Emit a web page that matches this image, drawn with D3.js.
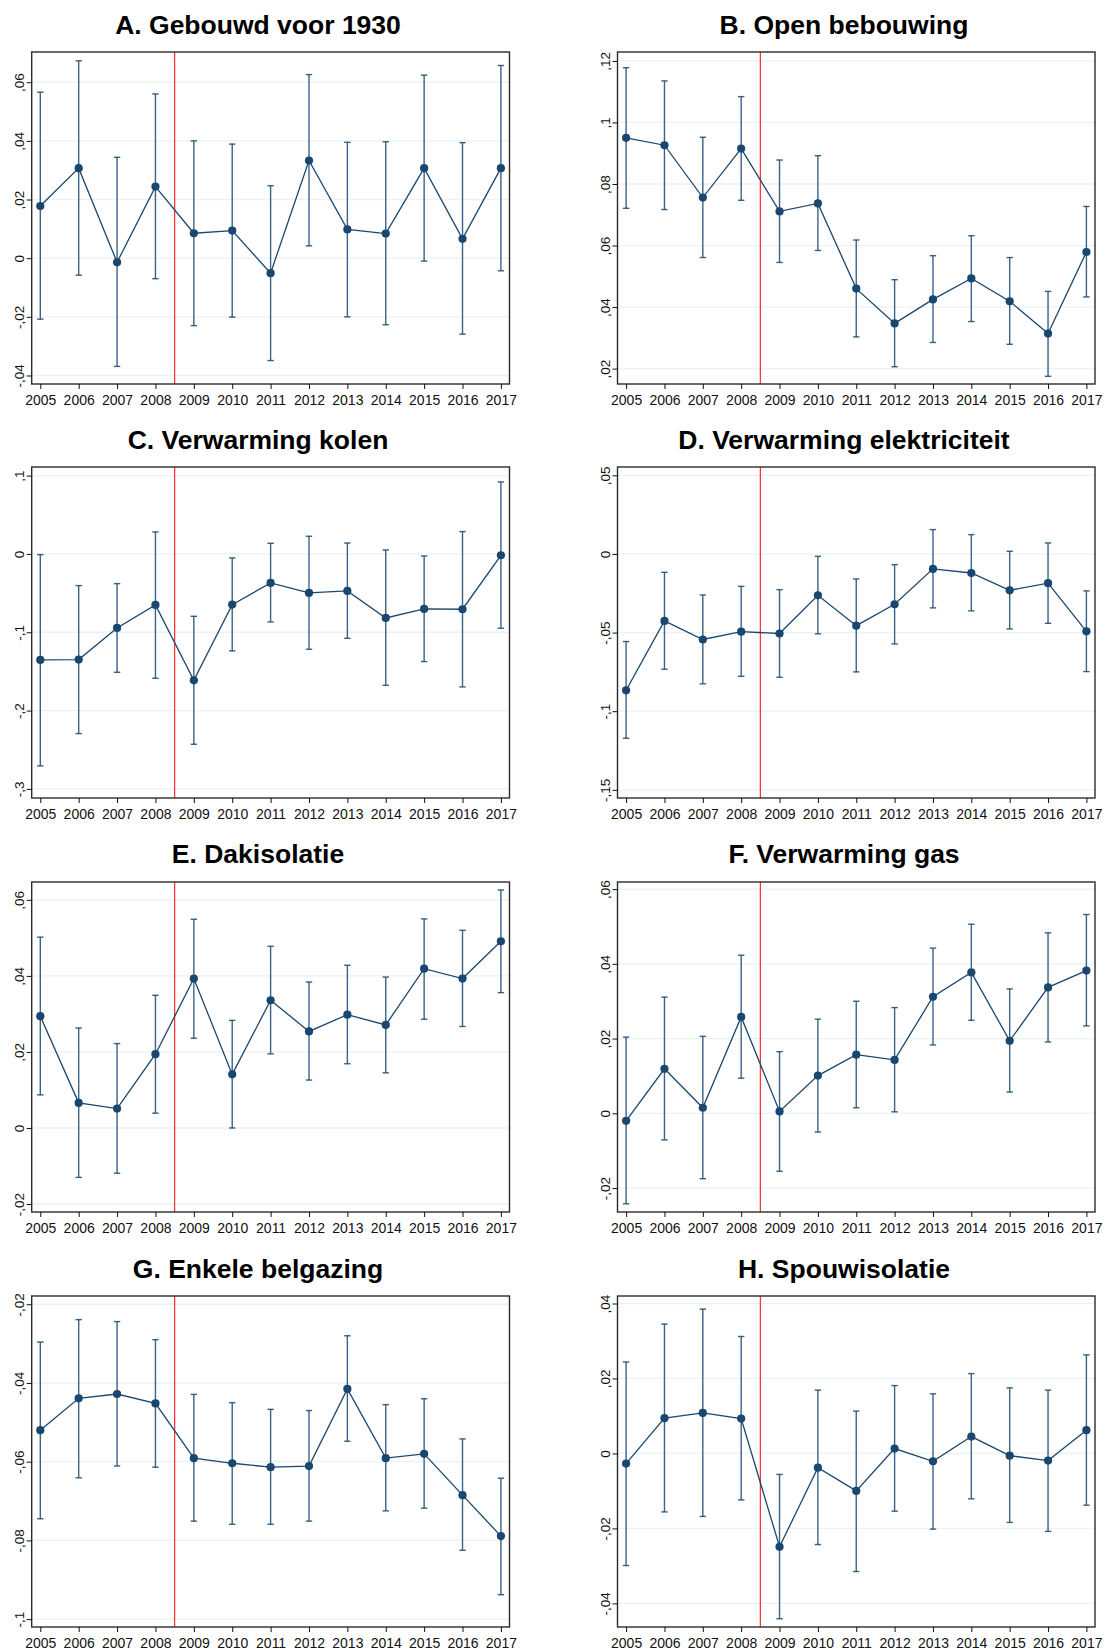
<!DOCTYPE html>
<html>
<head>
<meta charset="utf-8">
<script src="https://cdn.jsdelivr.net/npm/d3@7"></script>
<style>
  body { margin: 0; background: #fff; }
  svg { display: block; font-family: "Liberation Sans", Arial, sans-serif; }
  .panel-title { font-weight: bold; font-size: 26.5px; fill: #000; text-anchor: middle; }
  .axis text { font-family: "Liberation Sans", Arial, sans-serif; fill: #111; }
  .axis path.domain { display: none; }
  .axis line { stroke: #111; }
  .grid line { stroke: #eaf2f3; stroke-width: 1.3; }
  .frame { fill: none; stroke: #2b2b2b; stroke-width: 1.4; }
  .reform { stroke: #ff2a2a; stroke-width: 1.2; }
  .est-line { fill: none; stroke: #1a476f; stroke-width: 1.3; }
  .ci { stroke: #1a476f; stroke-width: 1.4; stroke-opacity: 0.85; }
  .dot { fill: #1a476f; }
</style>
</head>
<body>
<svg id="chart" width="1105" height="1650"></svg>
<script>
// Years on the x axis and the reform between 2008 and 2009
const years = [2005, 2006, 2007, 2008, 2009, 2010, 2011, 2012, 2013, 2014, 2015, 2016, 2017];
const reformYear = 2008.5;

// A. Gebouwd voor 1930
const gebouwdEst = [0.0178, 0.0307, -0.0014, 0.0244, 0.0085, 0.0094, -0.0051, 0.0333, 0.0098, 0.0084, 0.0307, 0.0066, 0.0307];
const gebouwdLo  = [-0.0208, -0.0058, -0.0369, -0.0070, -0.0230, -0.0201, -0.0349, 0.0042, -0.0200, -0.0227, -0.0010, -0.0259, -0.0043];
const gebouwdHi  = [0.0566, 0.0673, 0.0344, 0.0560, 0.0400, 0.0389, 0.0247, 0.0626, 0.0395, 0.0397, 0.0624, 0.0394, 0.0657];
const gebouwdTicks = [-0.04, -0.02, 0, 0.02, 0.04, 0.06];

// B. Open bebouwing
const openEst = [0.0950, 0.0926, 0.0756, 0.0915, 0.0711, 0.0737, 0.0460, 0.0347, 0.0425, 0.0493, 0.0419, 0.0314, 0.0579];
const openLo  = [0.0721, 0.0717, 0.0561, 0.0747, 0.0545, 0.0584, 0.0303, 0.0206, 0.0285, 0.0353, 0.0279, 0.0175, 0.0433];
const openHi  = [0.1178, 0.1135, 0.0952, 0.1084, 0.0878, 0.0892, 0.0618, 0.0489, 0.0567, 0.0632, 0.0561, 0.0451, 0.0727];
const openTicks = [0.02, 0.04, 0.06, 0.08, 0.1, 0.12];

// C. Verwarming kolen
const kolenEst = [-0.1353, -0.1349, -0.0945, -0.0651, -0.1613, -0.0647, -0.0370, -0.0498, -0.0472, -0.0817, -0.0702, -0.0706, -0.0017];
const kolenLo  = [-0.2706, -0.2294, -0.1511, -0.1587, -0.2430, -0.1238, -0.0868, -0.1217, -0.1077, -0.1677, -0.1374, -0.1698, -0.0949];
const kolenHi  = [-0.0009, -0.0404, -0.0379, 0.0281, -0.0796, -0.0051, 0.0136, 0.0226, 0.0140, 0.0051, -0.0026, 0.0285, 0.0919];
const kolenTicks = [-0.3, -0.2, -0.1, 0, 0.1];

// D. Verwarming elektriciteit
const elekEst = [-0.0867, -0.0426, -0.0544, -0.0494, -0.0506, -0.0263, -0.0456, -0.0320, -0.0095, -0.0121, -0.0231, -0.0186, -0.0492];
const elekLo  = [-0.1172, -0.0733, -0.0826, -0.0778, -0.0784, -0.0508, -0.0750, -0.0572, -0.0343, -0.0362, -0.0477, -0.0441, -0.0748];
const elekHi  = [-0.0557, -0.0117, -0.0261, -0.0206, -0.0227, -0.0015, -0.0159, -0.0068, 0.0155, 0.0123, 0.0017, 0.0070, -0.0235];
const elekTicks = [-0.15, -0.1, -0.05, 0, 0.05];

// E. Dakisolatie
const dakEst = [0.0294, 0.0066, 0.0051, 0.0194, 0.0393, 0.0141, 0.0336, 0.0254, 0.0298, 0.0271, 0.0419, 0.0393, 0.0491];
const dakLo  = [0.0087, -0.0130, -0.0119, 0.0039, 0.0236, 0.0000, 0.0195, 0.0126, 0.0169, 0.0145, 0.0286, 0.0267, 0.0356];
const dakHi  = [0.0502, 0.0263, 0.0222, 0.0349, 0.0549, 0.0283, 0.0478, 0.0384, 0.0428, 0.0397, 0.0550, 0.0520, 0.0626];
const dakTicks = [-0.02, 0, 0.02, 0.04, 0.06];

// F. Verwarming gas
const gasEst = [-0.0020, 0.0119, 0.0015, 0.0258, 0.0005, 0.0101, 0.0157, 0.0143, 0.0312, 0.0377, 0.0194, 0.0337, 0.0382];
const gasLo  = [-0.0242, -0.0071, -0.0175, 0.0094, -0.0155, -0.0050, 0.0015, 0.0004, 0.0183, 0.0249, 0.0057, 0.0191, 0.0234];
const gasHi  = [0.0204, 0.0311, 0.0206, 0.0423, 0.0165, 0.0252, 0.0300, 0.0283, 0.0442, 0.0506, 0.0333, 0.0483, 0.0532];
const gasTicks = [-0.02, 0, 0.02, 0.04, 0.06];

// G. Enkele belgazing
const enkelEst = [-0.0520, -0.0439, -0.0428, -0.0452, -0.0591, -0.0604, -0.0614, -0.0611, -0.0415, -0.0591, -0.0580, -0.0685, -0.0789];
const enkelLo  = [-0.0745, -0.0641, -0.0611, -0.0614, -0.0751, -0.0759, -0.0759, -0.0751, -0.0548, -0.0725, -0.0718, -0.0825, -0.0938];
const enkelHi  = [-0.0296, -0.0239, -0.0244, -0.0290, -0.0429, -0.0450, -0.0467, -0.0470, -0.0280, -0.0455, -0.0440, -0.0542, -0.0642];
const enkelTicks = [-0.1, -0.08, -0.06, -0.04, -0.02];

// H. Spouwisolatie
const spouwEst = [-0.0027, 0.0094, 0.0108, 0.0093, -0.0249, -0.0038, -0.0100, 0.0013, -0.0021, 0.0045, -0.0006, -0.0019, 0.0062];
const spouwLo  = [-0.0299, -0.0156, -0.0168, -0.0124, -0.0441, -0.0243, -0.0315, -0.0154, -0.0202, -0.0121, -0.0184, -0.0208, -0.0138];
const spouwHi  = [0.0244, 0.0345, 0.0385, 0.0312, -0.0056, 0.0169, 0.0113, 0.0181, 0.0159, 0.0213, 0.0175, 0.0169, 0.0263];
const spouwTicks = [-0.04, -0.02, 0, 0.02, 0.04];


class ErrorBarChart {

    /**
     * One panel: point estimates joined by a line, with capped confidence intervals.
     */
    constructor(_config, _data) {
        this.config = {
            svg: _config.svg,
            title: _config.title,
            titleX: _config.titleX,
            titleY: _config.titleY,
            left: _config.left,
            top: _config.top,
            width: _config.width,
            height: _config.height,
            yDomain: _config.yDomain,
            yTicks: _config.yTicks
        };
        this.data = _data;
        this.initVis();
    }

    initVis() {
        let vis = this;
        const c = vis.config;

        vis.svg = c.svg;

        vis.svg.append('text')
            .attr('class', 'panel-title')
            .attr('x', c.titleX)
            .attr('y', c.titleY)
            .text(c.title);

        vis.g = vis.svg.append('g')
            .attr('transform', `translate(${c.left},${c.top})`);

        // a little padding between the frame and the first / last year
        vis.xScale = d3.scaleLinear()
            .domain(d3.extent(years))
            .range([8.6, c.width - 8.6]);
        vis.yScale = d3.scaleLinear()
            .domain(c.yDomain)
            .range([c.height, 0]);

        vis.updateVis();
    }

    updateVis() {
        let vis = this;
        const c = vis.config;

        // Grid lines
        vis.g.append('g')
            .attr('class', 'grid')
            .selectAll('line')
            .data(c.yTicks)
            .join('line')
            .attr('x1', 0)
            .attr('x2', c.width)
            .attr('y1', d => vis.yScale(d))
            .attr('y2', d => vis.yScale(d));

        // Reform line
        vis.g.append('line')
            .attr('class', 'reform')
            .attr('x1', vis.xScale(reformYear))
            .attr('x2', vis.xScale(reformYear))
            .attr('y1', 0)
            .attr('y2', c.height);

        vis.renderVis();
    }

    renderVis() {
        let vis = this;
        const c = vis.config;
        const capHalf = 3.2;

        // Confidence intervals
        const ci = vis.g.append('g').selectAll('g')
            .data(vis.data)
            .join('g')
            .attr('class', 'ci');
        ci.append('line')
            .attr('x1', d => vis.xScale(d.year))
            .attr('x2', d => vis.xScale(d.year))
            .attr('y1', d => vis.yScale(d.lo))
            .attr('y2', d => vis.yScale(d.hi));
        ci.append('line')
            .attr('x1', d => vis.xScale(d.year) - capHalf)
            .attr('x2', d => vis.xScale(d.year) + capHalf)
            .attr('y1', d => vis.yScale(d.lo))
            .attr('y2', d => vis.yScale(d.lo));
        ci.append('line')
            .attr('x1', d => vis.xScale(d.year) - capHalf)
            .attr('x2', d => vis.xScale(d.year) + capHalf)
            .attr('y1', d => vis.yScale(d.hi))
            .attr('y2', d => vis.yScale(d.hi));

        // Estimates
        const line = d3.line()
            .x(d => vis.xScale(d.year))
            .y(d => vis.yScale(d.est));
        vis.g.append('path')
            .datum(vis.data)
            .attr('class', 'est-line')
            .attr('d', line);

        vis.g.append('g').selectAll('circle')
            .data(vis.data)
            .join('circle')
            .attr('class', 'dot')
            .attr('cx', d => vis.xScale(d.year))
            .attr('cy', d => vis.yScale(d.est))
            .attr('r', 4.1);

        // Frame
        vis.g.append('rect')
            .attr('class', 'frame')
            .attr('width', c.width)
            .attr('height', c.height);

        // Axes (Dutch decimal comma, leading zero dropped like Stata)
        const fmt = d => {
            if (d === 0) return '0';
            return String(+d.toFixed(2)).replace(/^(-?)0\./, '$1,');
        };

        const xAxis = d3.axisBottom(vis.xScale)
            .tickValues(years)
            .tickFormat(d3.format('d'))
            .tickSize(5)
            .tickPadding(6);
        vis.g.append('g')
            .attr('class', 'axis x-axis')
            .attr('transform', `translate(0,${c.height})`)
            .call(xAxis)
            .selectAll('text')
            .style('font-size', '14px');

        const yAxis = d3.axisLeft(vis.yScale)
            .tickValues(c.yTicks)
            .tickFormat(fmt)
            .tickSize(5);
        const yG = vis.g.append('g')
            .attr('class', 'axis y-axis')
            .call(yAxis);
        yG.selectAll('text')
            .style('font-size', '13.5px')
            .attr('x', null)
            .attr('dy', null)
            .attr('text-anchor', 'middle')
            .attr('transform', 'translate(-8,0) rotate(-90)');
    }
}


const svg = d3.select('#chart');

const rowTops = [52, 467, 882, 1296];
const rowHeights = [332, 331, 330, 331];
const titleBaselines = [34, 449, 863, 1278];
const leftCol = { left: 31.7, width: 477.8, titleX: 258 };
const rightCol = { left: 617.5, width: 477.5, titleX: 844 };

function series(est, lo, hi) {
    return years.map((year, i) => ({ year: year, est: est[i], lo: lo[i], hi: hi[i] }));
}

const panels = [
    { title: 'A. Gebouwd voor 1930', col: leftCol, row: 0, yDomain: [-0.0429, 0.0703], yTicks: gebouwdTicks, data: series(gebouwdEst, gebouwdLo, gebouwdHi) },
    { title: 'B. Open bebouwing', col: rightCol, row: 0, yDomain: [0.0150, 0.1229], yTicks: openTicks, data: series(openEst, openLo, openHi) },
    { title: 'C. Verwarming kolen', col: leftCol, row: 1, yDomain: [-0.3116, 0.1110], yTicks: kolenTicks, data: series(kolenEst, kolenLo, kolenHi) },
    { title: 'D. Verwarming elektriciteit', col: rightCol, row: 1, yDomain: [-0.1552, 0.0553], yTicks: elekTicks, data: series(elekEst, elekLo, elekHi) },
    { title: 'E. Dakisolatie', col: leftCol, row: 2, yDomain: [-0.0221, 0.0647], yTicks: dakTicks, data: series(dakEst, dakLo, dakHi) },
    { title: 'F. Verwarming gas', col: rightCol, row: 2, yDomain: [-0.0264, 0.0619], yTicks: gasTicks, data: series(gasEst, gasLo, gasHi) },
    { title: 'G. Enkele belgazing', col: leftCol, row: 3, yDomain: [-0.1020, -0.0179], yTicks: enkelTicks, data: series(enkelEst, enkelLo, enkelHi) },
    { title: 'H. Spouwisolatie', col: rightCol, row: 3, yDomain: [-0.0463, 0.0420], yTicks: spouwTicks, data: series(spouwEst, spouwLo, spouwHi) }
];

panels.forEach(p => {
    new ErrorBarChart({
        svg: svg,
        title: p.title,
        titleX: p.col.titleX,
        titleY: titleBaselines[p.row],
        left: p.col.left,
        top: rowTops[p.row],
        width: p.col.width,
        height: rowHeights[p.row],
        yDomain: p.yDomain,
        yTicks: p.yTicks
    }, p.data);
});
</script>
</body>
</html>
